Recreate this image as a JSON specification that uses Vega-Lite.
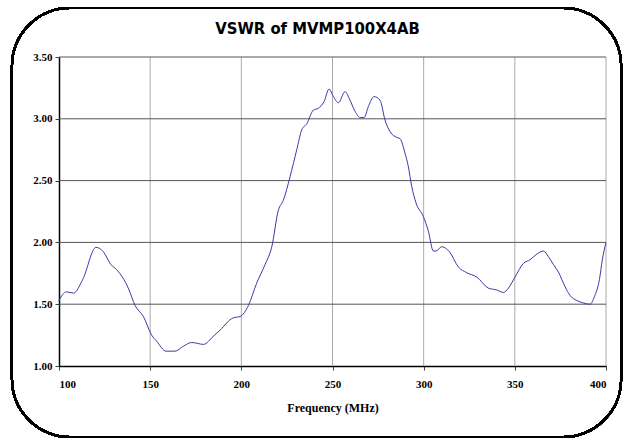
{
  "$schema": "https://vega.github.io/schema/vega-lite/v6.json",
  "autosize": "none",
  "width": 547,
  "height": 309,
  "padding": {"left": 59, "top": 57, "right": 18, "bottom": 73},
  "background": "white",
  "title": {
    "text": "VSWR of MVMP100X4AB",
    "font": "DejaVu Sans Condensed",
    "fontSize": 16.5,
    "fontWeight": "bold",
    "color": "#000000",
    "anchor": "middle",
    "frame": "group",
    "dx": -15,
    "offset": -31
  },
  "config": {
    "view": {"stroke": null},
    "axis": {
      "labelFont": "Liberation Serif",
      "labelFontWeight": "bold",
      "labelFontSize": 11,
      "labelColor": "#000000",
      "titleFont": "Liberation Serif",
      "titleFontWeight": "bold",
      "titleFontSize": 12,
      "titleColor": "#000000",
      "domainColor": "#000000",
      "domainWidth": 1.5,
      "tickColor": "#444444",
      "tickSize": 4
    }
  },
  "data": {
    "values": [
      {"f": 100, "v": 1.53}, {"f": 104, "v": 1.60}, {"f": 108, "v": 1.59}, {"f": 113, "v": 1.70},
      {"f": 120.3, "v": 1.96}, {"f": 124.3, "v": 1.925}, {"f": 128.5, "v": 1.82}, {"f": 131.6, "v": 1.78},
      {"f": 138, "v": 1.63}, {"f": 141.7, "v": 1.49}, {"f": 146.3, "v": 1.40}, {"f": 150.8, "v": 1.25},
      {"f": 153.6, "v": 1.20}, {"f": 158.7, "v": 1.12}, {"f": 163.6, "v": 1.12}, {"f": 168.2, "v": 1.16},
      {"f": 172.8, "v": 1.19}, {"f": 179.3, "v": 1.175}, {"f": 184.6, "v": 1.24}, {"f": 188.3, "v": 1.29},
      {"f": 195.6, "v": 1.39}, {"f": 199.3, "v": 1.40}, {"f": 203.9, "v": 1.49}, {"f": 208.4, "v": 1.67},
      {"f": 213, "v": 1.82}, {"f": 216.7, "v": 1.965}, {"f": 220.3, "v": 2.26}, {"f": 223, "v": 2.34},
      {"f": 226.7, "v": 2.53}, {"f": 230.4, "v": 2.75}, {"f": 233.1, "v": 2.91}, {"f": 235.9, "v": 2.96},
      {"f": 239.5, "v": 3.07}, {"f": 242.2, "v": 3.085}, {"f": 245.4, "v": 3.14}, {"f": 248.1, "v": 3.24},
      {"f": 250.5, "v": 3.18}, {"f": 253.2, "v": 3.13}, {"f": 256.9, "v": 3.22}, {"f": 259.6, "v": 3.15},
      {"f": 262.4, "v": 3.06}, {"f": 265.1, "v": 3.01}, {"f": 267.3, "v": 3.01}, {"f": 269.7, "v": 3.10},
      {"f": 272.8, "v": 3.18}, {"f": 276.1, "v": 3.15}, {"f": 278.8, "v": 2.99}, {"f": 281.6, "v": 2.895},
      {"f": 285.2, "v": 2.85}, {"f": 287, "v": 2.84}, {"f": 289.8, "v": 2.72}, {"f": 291.5, "v": 2.62},
      {"f": 293.5, "v": 2.45}, {"f": 295.8, "v": 2.32}, {"f": 299.8, "v": 2.21}, {"f": 302.6, "v": 2.09},
      {"f": 305.3, "v": 1.93}, {"f": 306.8, "v": 1.93}, {"f": 309.9, "v": 1.965}, {"f": 314.1, "v": 1.925},
      {"f": 319.1, "v": 1.80}, {"f": 323.6, "v": 1.755}, {"f": 329.1, "v": 1.72}, {"f": 335.5, "v": 1.63},
      {"f": 340.1, "v": 1.615}, {"f": 343.7, "v": 1.595}, {"f": 346.5, "v": 1.63}, {"f": 350.1, "v": 1.72},
      {"f": 354.7, "v": 1.83}, {"f": 358.4, "v": 1.86}, {"f": 362, "v": 1.905}, {"f": 365.7, "v": 1.93},
      {"f": 368.4, "v": 1.885}, {"f": 371.2, "v": 1.82}, {"f": 373.9, "v": 1.76}, {"f": 377.6, "v": 1.64},
      {"f": 380.3, "v": 1.57}, {"f": 384, "v": 1.53}, {"f": 387.6, "v": 1.51}, {"f": 391.3, "v": 1.50},
      {"f": 393.6, "v": 1.56}, {"f": 396.4, "v": 1.70}, {"f": 398, "v": 1.86}, {"f": 400, "v": 2.00}
    ]
  },
  "layer": [
    {
      "mark": {"type": "rule", "color": "#aaaaaa", "strokeWidth": 1},
      "data": {"values": [{"g": 150}, {"g": 200}, {"g": 250}, {"g": 300}, {"g": 350}, {"g": 400}]},
      "encoding": {"x": {"field": "g", "type": "quantitative", "scale": {"domain": [100, 400]}}}
    },
    {
      "mark": {"type": "rule", "color": "#555555", "strokeWidth": 1},
      "data": {"values": [{"h": 1.5}, {"h": 2.0}, {"h": 2.5}, {"h": 3.0}, {"h": 3.5}]},
      "encoding": {"y": {"field": "h", "type": "quantitative", "scale": {"domain": [1, 3.5]}}}
    },
    {
      "mark": {"type": "line", "color": "#3a3aa8", "strokeWidth": 1, "interpolate": "monotone"},
      "encoding": {
        "x": {
          "field": "f", "type": "quantitative",
          "scale": {"domain": [100, 400], "nice": false},
          "axis": {"values": [100, 150, 200, 250, 300, 350, 400], "format": "d", "grid": false, "title": "Frequency (MHz)", "labelPadding": 8, "titlePadding": 13}
        },
        "y": {
          "field": "v", "type": "quantitative",
          "scale": {"domain": [1, 3.5], "nice": false, "zero": false},
          "axis": {"values": [1, 1.5, 2, 2.5, 3, 3.5], "format": ".2f", "grid": false, "title": null, "labelPadding": 3}
        }
      }
    },
    {
      "mark": {"type": "rect", "fill": null, "stroke": "#000000", "strokeWidth": 2, "cornerRadius": 58, "clip": false},
      "encoding": {
        "x": {"datum": 74.2, "type": "quantitative"},
        "x2": {"datum": 408.3},
        "y": {"datum": 0.426, "type": "quantitative"},
        "y2": {"datum": 3.897}
      }
    }
  ]
}
